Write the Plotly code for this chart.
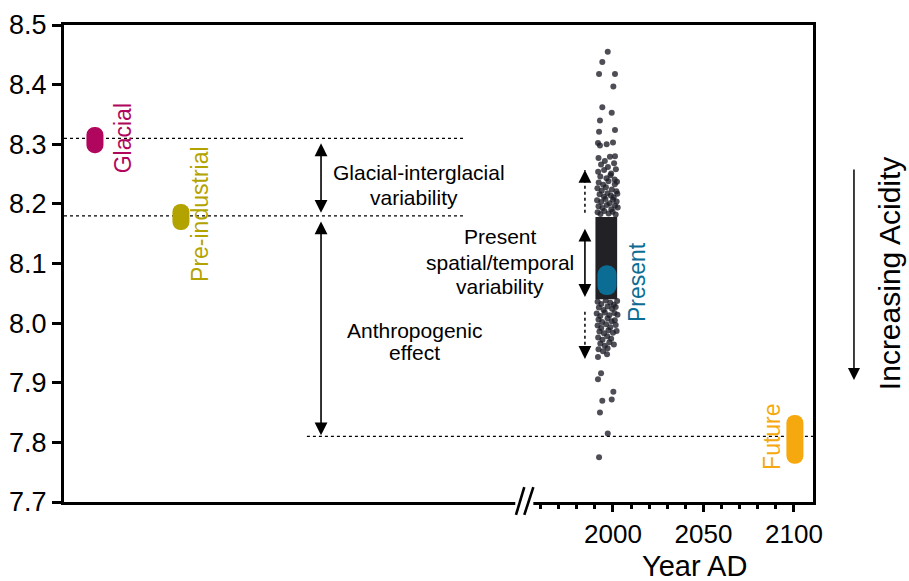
import plotly.graph_objects as go

# ---------------- data ----------------
categories = ["Glacial", "Pre-industrial", "Present", "Future"]
cat_x = [1713.8, 1761.3, 1996.7, 2100.5]          # position on (broken) year axis
ph_low = [8.285, 8.156, 8.047, 7.764]
ph_high = [8.329, 8.200, 8.097, 7.846]
cat_colors = ["#b0065e", "#b3a300", "#0b6d93", "#f5a90f"]
pill_width = [9.4, 9.4, 10.5, 9.4]
label_x = [1729.3, 1771.8, 2013.3, 2087.8]
label_y = [8.310, 8.183, 8.069, 7.809]

# reference (dotted) levels
ref_ph = [8.31, 8.18, 7.81]
ref_x0 = [1696.7, 1696.7, 1830.9]
ref_x1 = [1918.2, 1917.1, 2110.5]

# present-day observations: dense core band
core_x = 1996.3
core_low = 8.040
core_high = 8.178
core_width = 12.0

present_year = [
    1997.1, 1994.1, 1992.3, 2001.1, 2000.2, 1994.1, 1999.3, 1992.8, 1992.3, 2001.1,
    1991.7, 1992.8, 1996.5, 2000.0, 2001.1,
    1992.0, 1995.5, 1998.3, 1993.4, 1997.2, 2000.6, 1991.8, 1995.1, 1999.0, 2001.6,
    1993.0, 1996.4, 1998.6, 2000.9, 1992.1, 1994.6, 1997.5, 2001.0, 2002.2,
    1991.4, 1993.8, 1996.1, 1999.4, 2001.9, 1992.6, 1995.0, 1997.0, 1998.8, 2000.4, 2002.4,
    1991.2, 1993.5, 1995.8, 1998.1, 2000.0, 2002.0, 1992.0, 1994.2, 1996.6, 1999.1, 2001.1, 2002.6,
    1991.5, 1993.1, 1995.2, 1997.6, 1999.8, 2001.5,
    1991.5, 1993.5, 1996.0, 1998.5, 2000.5, 2002.3, 1992.2, 1994.8, 1997.0, 1999.5, 2001.5,
    1991.0, 1993.0, 1995.5, 1998.0, 2000.8, 2002.5, 1992.0, 1994.0, 1997.0, 1999.2, 2001.0,
    1991.5, 1993.5, 1996.2, 1998.5, 2001.5, 1992.5, 1995.0, 1997.5, 2000.0, 2002.0,
    1991.8, 1994.2, 1996.8, 1999.0, 1993.0, 1995.5, 1998.0, 2000.5, 1992.0, 1994.5, 1997.0,
    1991.7, 1996.7, 1993.4, 1991.7, 2000.2, 1994.1, 1999.3, 1992.8, 1997.1, 1992.3,
]
present_ph = [
    8.455, 8.438, 8.418, 8.418, 8.397, 8.362, 8.353, 8.340, 8.321, 8.324,
    8.302, 8.298, 8.300, 8.303, 8.280,
    8.277, 8.272, 8.279, 8.266, 8.262, 8.268, 8.254, 8.257, 8.251, 8.258,
    8.246, 8.243, 8.248, 8.241, 8.236, 8.232, 8.238, 8.233, 8.237,
    8.226, 8.222, 8.228, 8.224, 8.221, 8.216, 8.212, 8.218, 8.214, 8.211, 8.217,
    8.206, 8.203, 8.208, 8.201, 8.207, 8.204, 8.196, 8.193, 8.198, 8.191, 8.197, 8.194,
    8.186, 8.183, 8.188, 8.184, 8.187, 8.182,
    8.036, 8.032, 8.038, 8.034, 8.031, 8.037, 8.026, 8.022, 8.028, 8.024, 8.027,
    8.016, 8.012, 8.018, 8.013, 8.017, 8.014, 8.006, 8.002, 8.008, 8.003, 8.005,
    7.996, 7.992, 7.998, 7.993, 7.997, 7.986, 7.983, 7.988, 7.984, 7.987,
    7.976, 7.972, 7.978, 7.974, 7.966, 7.962, 7.968, 7.964, 7.956, 7.953, 7.958,
    7.943, 7.948, 7.916, 7.906, 7.885, 7.870, 7.872, 7.850, 7.815, 7.775,
]

# variability arrows: (x, ph_start, ph_end)
gi_arrow = (1838.7, 8.304, 8.185)        # glacial-interglacial
anthro_arrow = (1838.7, 8.173, 7.812)    # anthropogenic effect
present_arrow = (1984.5, 8.161, 8.044)   # present variability (solid)
dotted_up = (1984.5, 8.185, 8.257)
dotted_down = (1984.5, 8.019, 7.940)

# explanatory text lines: (text, x, ph)
text_lines = [
    ("Glacial-interglacial", 1892.8, 8.252),
    ("variability", 1890.1, 8.210),
    ("Present", 1937.6, 8.146),
    ("spatial/temporal", 1937.6, 8.101),
    ("variability", 1937.6, 8.061),
    ("Anthropogenic", 1890.6, 7.988),
    ("effect", 1890.6, 7.950),
]

x_range = [1696.7, 2110.5]
y_range = [7.7, 8.5]
year_ticks = [2000, 2050, 2100]
minor_ticks = [1960, 1970, 1980, 1990, 2010, 2020, 2030, 2040, 2060, 2070, 2080, 2090]
ph_ticks = [7.7, 7.8, 7.9, 8.0, 8.1, 8.2, 8.3, 8.4, 8.5]

FONT = "Liberation Sans, Arial, Helvetica, sans-serif"

fig = go.Figure()

# dense core of present observations
fig.add_trace(go.Bar(
    x=[core_x], y=[core_high - core_low], base=[core_low], width=[core_width],
    marker=dict(color="rgba(22,22,26,0.95)", line=dict(width=0)),
    hoverinfo="skip", showlegend=False,
))

# individual present observations
fig.add_trace(go.Scatter(
    x=present_year, y=present_ph, mode="markers",
    marker=dict(size=6, color="rgba(28,28,38,0.78)", line=dict(width=0)),
    hoverinfo="skip", showlegend=False,
))

# category pills
for i, name in enumerate(categories):
    fig.add_trace(go.Bar(
        x=[cat_x[i]], y=[ph_high[i] - ph_low[i]], base=[ph_low[i]], width=[pill_width[i]],
        marker=dict(color=cat_colors[i], cornerradius=9, line=dict(width=0)),
        name=name, showlegend=False, hoverinfo="skip",
    ))
    fig.add_annotation(
        x=label_x[i], y=label_y[i], text=name, showarrow=False, textangle=-90,
        font=dict(family=FONT, size=23, color=cat_colors[i]),
        xanchor="center", yanchor="middle",
    )

# dotted reference levels
for lvl, x0, x1 in zip(ref_ph, ref_x0, ref_x1):
    fig.add_shape(type="line", x0=x0, x1=x1, y0=lvl, y1=lvl, xref="x", yref="y",
                  line=dict(color="black", width=1.3, dash="dot"), layer="below")

# solid double arrows
for (ax_x, p0, p1) in [gi_arrow, anthro_arrow, present_arrow]:
    fig.add_annotation(
        x=ax_x, y=p1, ax=ax_x, ay=p0, xref="x", yref="y", axref="x", ayref="y",
        text="", showarrow=True, arrowhead=2, arrowside="end+start",
        arrowsize=1.6, arrowwidth=1.6, arrowcolor="black", standoff=0, startstandoff=0,
    )

# dotted single arrows
for (ax_x, p0, p1) in [dotted_up, dotted_down]:
    fig.add_shape(type="line", x0=ax_x, x1=ax_x, y0=p0, y1=p1, xref="x", yref="y",
                  line=dict(color="black", width=1.5, dash="dot"))
    step = 0.012 if p1 > p0 else -0.012
    fig.add_annotation(
        x=ax_x, y=p1, ax=ax_x, ay=p1 - step, xref="x", yref="y", axref="x", ayref="y",
        text="", showarrow=True, arrowhead=2, arrowsize=1.6, arrowwidth=1.6,
        arrowcolor="black", standoff=0,
    )

# text annotations
txt_font = dict(family=FONT, size=21, color="black")
for t, tx, ty in text_lines:
    fig.add_annotation(x=tx, y=ty, text=t, showarrow=False, font=txt_font,
                       xanchor="center", yanchor="middle")

# x-axis title (centred on year section)
fig.add_annotation(x=2044.8, y=-0.134, xref="x", yref="paper", text="Year AD",
                   showarrow=False, font=dict(family=FONT, size=29, color="black"),
                   xanchor="center", yanchor="middle")

# Increasing acidity label + arrow
fig.add_annotation(x=1.103, y=0.478, xref="paper", yref="paper", text="Increasing Acidity",
                   showarrow=False, textangle=-90,
                   font=dict(family=FONT, size=30, color="black"),
                   xanchor="center", yanchor="middle")
fig.add_annotation(x=1.0547, y=0.256, xref="paper", yref="paper", ax=0, ay=-212,
                   text="", showarrow=True, arrowhead=2, arrowsize=1.6, arrowwidth=1.5,
                   arrowcolor="black", standoff=0)

# axis break marks
fig.add_shape(type="rect", x0=1946.0, x1=1956.0, y0=-0.02, y1=0.02, xref="x", yref="paper",
              fillcolor="white", line=dict(width=0), layer="above")
fig.add_shape(type="line", x0=1946.4, x1=1951.0, y0=-0.027, y1=0.031, xref="x", yref="paper",
              line=dict(color="black", width=2.6), layer="above")
fig.add_shape(type="line", x0=1951.0, x1=1956.0, y0=-0.027, y1=0.031, xref="x", yref="paper",
              line=dict(color="black", width=2.6), layer="above")

fig.update_layout(
    width=909, height=581,
    margin=dict(l=64, r=96, t=25, b=79, autoexpand=False),
    paper_bgcolor="white", plot_bgcolor="white",
    barmode="overlay", showlegend=False,
    font=dict(family=FONT, color="black"),
    xaxis=dict(
        range=x_range, showgrid=False, zeroline=False, automargin=False,
        showline=True, linecolor="black", linewidth=3, mirror=True,
        tickmode="array", tickvals=year_ticks, ticktext=[str(v) for v in year_ticks],
        ticks="outside", ticklen=7, tickwidth=2.5, tickcolor="black",
        tickfont=dict(family=FONT, size=26, color="black"),
        minor=dict(tickmode="array", tickvals=minor_ticks, ticks="outside",
                   ticklen=4, tickwidth=2.5, tickcolor="black", showgrid=False),
    ),
    yaxis=dict(
        range=y_range, showgrid=False, zeroline=False, automargin=False,
        showline=True, linecolor="black", linewidth=3, mirror=True,
        tickmode="array", tickvals=ph_ticks, ticktext=[f"{v:.1f}" for v in ph_ticks],
        ticks="outside", ticklen=9, tickwidth=2.5, tickcolor="black",
        tickfont=dict(family=FONT, size=27, color="black"),
    ),
)

fig.write_html("out.html", config={"displayModeBar": False},
               post_script="document.body.style.margin='0';document.body.style.overflow='hidden';")
